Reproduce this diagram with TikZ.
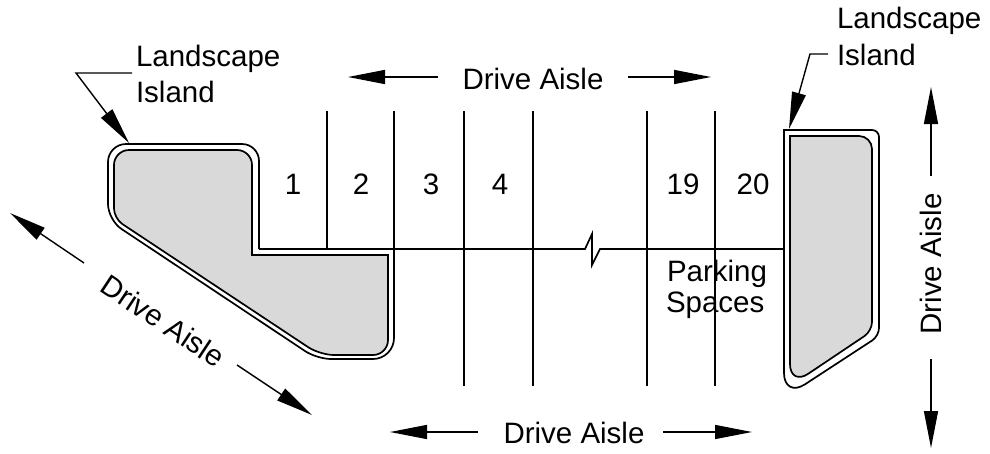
\documentclass[tikz,border=0pt]{standalone}
\usepackage{fontspec}
\setmainfont{Liberation Sans}
\usetikzlibrary{arrows.meta}
\tikzset{
  ln/.style={draw=black,line width=1.7pt},
  island/.style={draw=black,line width=1.7pt,fill=islandgray},
  arrowline/.style={draw=black,line width=1.4pt,-{Triangle[length=37pt,width=14pt]}},
  lbl/.style={inner sep=0pt,outer sep=0pt,font=\fontsize{29.5}{35}\selectfont,text=black},
  lblw/.style={lbl,anchor=base west},
  lblc/.style={lbl,anchor=base},
}
\definecolor{islandgray}{HTML}{D9D9D9}
\begin{document}
\begin{tikzpicture}[x=1pt,y=-1pt]
\useasboundingbox (0,0) rectangle (990,453);
\fill[white] (0,0) rectangle (990,453);
% stall lines
\draw[ln] (327,111) -- (327,249);
\draw[ln] (394,111) -- (394,336);
\draw[ln] (464,111) -- (464,386);
\draw[ln] (533,111) -- (533,386);
\draw[ln] (647,111) -- (647,386);
\draw[ln] (715,111) -- (715,386);
% head line with break
\draw[ln,line join=miter] (259,249) -- (585,249) -- (592,234) -- (592,265) -- (600,249) -- (784,249);
% left island outer
\draw[ln] (259,249) -- (259,170)
  [rounded corners=17pt] -- (259,144)
  [rounded corners=18pt] -- (108,144)
  [rounded corners=16pt] -- (108,220)
  [rounded corners=14pt] -- (317,359)
  [rounded corners=21pt] -- (394,359)
  -- (394,330);
% left island inner
\draw[island] (252,255) -- (252,175)
  [rounded corners=15pt] -- (252,150)
  [rounded corners=15pt] -- (114,150)
  [rounded corners=10pt] -- (114,218.5)
  [rounded corners=14pt] -- (320,355)
  [rounded corners=15pt] -- (388,355)
  [sharp corners] -- (388,255) -- cycle;
% right island outer
\draw[ln] (784,249) -- (784,130)
  [rounded corners=7pt] -- (879,130)
  [rounded corners=8pt] -- (879,336)
  [rounded corners=25pt] -- (784,398)
  [sharp corners] -- (784,360) -- (784,249);
% right island inner
\draw[island] (790,136)
  [rounded corners=13pt] -- (872,136)
  [rounded corners=9pt] -- (872,331)
  [rounded corners=22pt] -- (790,386)
  [sharp corners] -- (790,350) -- cycle;
% labels
\node[lblw] (ll1) at (136,66) {Landscape};
\node[lblw] (ll2) at (136,102) {Island};
\node[lblw] (rl1) at (837,28) {Landscape};
\node[lblw] (rl2) at (837,65) {Island};
\node[lblc] (n1) at (293,194) {1};
\node[lblc] (n2) at (361,194) {2};
\node[lblc] (n3) at (431,194) {3};
\node[lblc] (n4) at (500,194) {4};
\node[lblc] (n19) at (683,194) {19};
\node[lblc] (n20) at (753,194) {20};
\node[lblw] (ps1) at (667,281) {Parking};
\node[lblw] (ps2) at (666,312) {Spaces};
\node[lblc] (datop) at (533,89) {Drive Aisle};
\node[lblc] (dabot) at (574,443) {Drive Aisle};
\node[lbl,rotate=90] (daright) at (931,264) {Drive Aisle};
\node[lbl,rotate=-33.5] (dadiag) at (163,321) {Drive Aisle};
% coordinates for arrows
\coordinate (tla) at (438,77); \coordinate (tlt) at (348,77);
\coordinate (tra) at (628,77); \coordinate (trt) at (711,77);
\coordinate (bla) at (478,432); \coordinate (blt) at (390,432);
\coordinate (bra) at (663,432); \coordinate (brt) at (752,432);
\coordinate (vua) at (931,176); \coordinate (vut) at (931,87);
\coordinate (vda) at (931,359); \coordinate (vdt) at (931,448);
\coordinate (dua) at (84,263); \coordinate (dut) at (10,213);
\coordinate (dda) at (237,365); \coordinate (ddt) at (312,415);
\draw[arrowline] (tla) -- (tlt);
\draw[arrowline] (tra) -- (trt);
\draw[arrowline] (bla) -- (blt);
\draw[arrowline] (bra) -- (brt);
\draw[arrowline] (vua) -- (vut);
\draw[arrowline] (vda) -- (vdt);
\draw[arrowline] (dua) -- (dut);
\draw[arrowline] (dda) -- (ddt);
% leaders
\coordinate (lls) at (132,73); \coordinate (llm) at (76,73); \coordinate (llt) at (129,143);
\coordinate (rls) at (828,54); \coordinate (rlm) at (810,54); \coordinate (rlt) at (789,129);
\draw[arrowline,line join=miter] (lls) -- (llm) -- (llt);
\draw[arrowline,line join=miter] (rls) -- (rlm) -- (rlt);
\end{tikzpicture}
\end{document}
